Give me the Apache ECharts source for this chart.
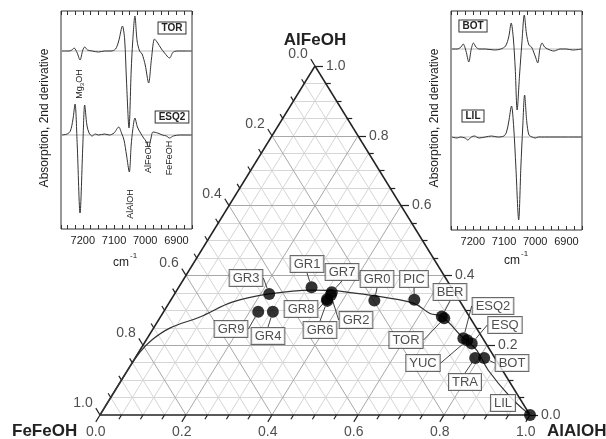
<!DOCTYPE html>
<html><head><meta charset="utf-8">
<script src="https://cdn.jsdelivr.net/npm/echarts@6/dist/echarts.min.js"></script>
<style>html,body{margin:0;padding:0;background:#fff}#c{width:606px;height:439px}</style>
</head><body><div id="c"></div>
<script>
// ---------------- DATA ----------------
// Ternary samples: fractions of AlAlOH and AlFeOH (FeFeOH = 1 - AlAlOH - AlFeOH)
const pointNames = ['GR3','GR1','GR7','GR2','GR8','GR6','GR0','PIC','GR9','GR4','BER','TOR','ESQ2','YUC','ESQ','TRA','BOT','LIL'];
const pointAlAlOH = [0.220,0.309,0.363,0.365,0.362,0.365,0.474,0.566,0.220,0.254,0.654,0.662,0.735,0.747,0.762,0.791,0.812,1.000];
const pointAlFeOH = [0.347,0.366,0.352,0.344,0.332,0.327,0.328,0.330,0.296,0.296,0.282,0.277,0.220,0.214,0.205,0.163,0.163,0.000];

// Model curve
const curveAlAlOH = [0.000,0.000,0.003,0.013,0.038,0.092,0.147,0.220,0.314,0.356,0.413,0.482,0.570,0.622,0.654,0.734,0.783,0.838,0.928,1.000];
const curveAlFeOH = [0.000,0.120,0.180,0.215,0.249,0.281,0.324,0.347,0.358,0.357,0.350,0.339,0.320,0.291,0.282,0.221,0.186,0.129,0.052,0.000];

// Ternary axes
const tickVals = [0,0.05,0.10,0.15,0.20,0.25,0.30,0.35,0.40,0.45,0.50,0.55,0.60,0.65,0.70,0.75,0.80,0.85,0.90,0.95,1.00];
const labelVals = [0,0.2,0.4,0.6,0.8,1.0];
const labelTexts = ['0.0','0.2','0.4','0.6','0.8','1.0'];

// Inset spectra (wavenumber cm-1, 2nd-derivative value in plot units)
const torWn  = [7268,7245,7235,7228,7218,7209,7200,7194,7185,7170,7150,7130,7110,7095,7085,7073,7066,7060,7052,7045,7040,7033,7026,7018,7010,7000,6989,6980,6970,6960,6950,6938,6922,6910,6890,6870,6850];
const torVal = [0,0,1,3,-2,-9,1,4,1,0,-1,0,0,2,10,25,12,-30,-77,-20,10,35,10,0,-3,-14,-32,-8,12,8,3,-2,-7,-1,0,0,0];
const esq2Wn  = [7268,7250,7240,7232,7225,7218,7209,7200,7194,7187,7180,7170,7160,7150,7130,7115,7100,7085,7076,7068,7060,7051,7045,7040,7033,7025,7015,7005,6998,6989,6982,6975,6960,6945,6932,6922,6910,6890,6850];
const esq2Val = [0,1,4,15,31,-10,-78,-10,30,10,2,-1,1,0,1,0,2,8,2,-5,-20,-37,-10,5,17,8,2,-3,-6,-12,-4,3,2,0,-1,-3,-1,0,0];
const botWn  = [7268,7250,7238,7231,7222,7213,7205,7198,7190,7180,7160,7130,7110,7095,7085,7077,7070,7064,7058,7050,7043,7035,7028,7020,7012,7005,6998,6992,6985,6978,6970,6960,6940,6920,6900,6880,6850];
const botVal = [0,0,2,5,-2,-13,0,6,2,0,0,-1,0,3,12,26,10,-20,-61,-25,5,34,15,4,2,-3,-9,-14,0,6,2,0,-2,0,0,-1,0];
const lilWn  = [7268,7250,7240,7225,7216,7205,7195,7180,7160,7140,7120,7100,7092,7085,7076,7069,7062,7053,7046,7040,7034,7027,7020,7010,7000,6990,6970,6940,6900,6850];
const lilVal = [0,-1,0,-1,-3,0,1,-1,0,1,0,1,5,15,31,10,-30,-83,-30,10,42,15,2,0,-1,0,0,0,0,0];

// ---------------- LAYOUT ----------------
const FONT = '"Liberation Sans", Arial, sans-serif';
const SX = 430, SY = 349;            // triangle pixel size
const INK = '#222';
const labelPos = {
  GR3:[246,278], GR1:[307,264], GR7:[342,272], GR2:[356,320], GR8:[301,309], GR6:[320,330],
  GR0:[377,279], PIC:[414,279], GR9:[231,329], GR4:[268,336], BER:[450,292], TOR:[406,340],
  ESQ2:[493,306], YUC:[423,363], ESQ:[505,325], TRA:[465,382], BOT:[512,363], LIL:[503,403]
};
const base = {TOR:178, ESQ2:94, BOT:181, LIL:93};

function tern(a, c) { return [a + c / 2, c]; }
function pxOff(p, dx, dy) { return [p[0] + dx / SX, p[1] - dy / SY]; }
function isMajor(t) { return Math.abs(t * 5 - Math.round(t * 5)) < 1e-9; }

const gridMinor = [], gridMajor = [];
tickVals.forEach(t => {
  if (t <= 0 || t >= 1) return;
  const target = isMajor(t) ? gridMajor : gridMinor;
  target.push({coords:[tern(t,0), tern(t,1-t)]});        // const AlAlOH
  target.push({coords:[tern(0,t), tern(1-t,t)]});        // const AlFeOH
  target.push({coords:[tern(1-t,0), tern(0,1-t)]});      // const FeFeOH
});
const edges = [
  {coords:[tern(0,0), tern(1,0)]},
  {coords:[tern(1,0), tern(0,1)]},
  {coords:[tern(0,1), tern(0,0)]}
];
const ux = 0.5244, uy = 0.8513;
const ticks = [];
tickVals.forEach(t => {
  const L = isMajor(t) ? 8 : 5;
  let p = tern(t, 0); ticks.push({coords:[p, pxOff(p, -ux*L, uy*L)]});
  p = tern(0, 1 - t); ticks.push({coords:[p, pxOff(p, -ux*L, -uy*L)]});
  p = tern(1 - t, t); ticks.push({coords:[p, pxOff(p, L, 0)]});
});
const bottomLab = labelVals.map((t,i) => ({value: pxOff(tern(t,0), -ux*8, uy*8), txt: labelTexts[i]}));
const leftLab = labelVals.map((t,i) => ({value: pxOff(tern(0,1-t), -ux*8, -uy*8), txt: labelTexts[i]}));
const rightLab = labelVals.map((t,i) => ({value: pxOff(tern(1-t,t), 8, 0), txt: labelTexts[i]}));

const points = pointNames.map((n,i) => ({name:n, value: tern(pointAlAlOH[i], pointAlFeOH[i])}));
const curve = curveAlAlOH.map((a,i) => tern(a, curveAlFeOH[i]));

function segSeries(data, color, width) {
  return {type:'lines', coordinateSystem:'cartesian2d', xAxisIndex:0, yAxisIndex:0, silent:true,
    data, lineStyle:{color, width, opacity:1, curveness:0}, effect:{show:false}, clip:false, z:2};
}
function labSeries(data, pos, extra) {
  return {type:'scatter', xAxisIndex:0, yAxisIndex:0, silent:true, symbolSize:0.1,
    itemStyle:{color:'transparent'}, clip:false,
    data: data.map(d => ({value:d.value, txt:d.txt})),
    label: Object.assign({show:true, position:pos, formatter: p => p.data.txt,
      fontFamily:FONT, fontSize:14, color:INK}, extra)};
}
function spec(wn, vals, b, gi) {
  return {type:'line', xAxisIndex:gi, yAxisIndex:gi, showSymbol:false, smooth:0.3, silent:true,
    lineStyle:{color:'#333', width:1}, data: wn.map((w,i) => [w, b + vals[i]]), z:3};
}
function baseLine(b, gi) {
  return {type:'line', xAxisIndex:gi, yAxisIndex:gi, showSymbol:false, silent:true,
    lineStyle:{color:'#bbb', width:1}, data:[[6850,b],[7270,b]], z:2};
}
function insetX(gi, pos, showLab) {
  return {gridIndex:gi, type:'value', min:6850, max:7270, interval:25, inverse:true, position:pos,
    axisLine:{show:false}, splitLine:{show:false},
    axisTick:{show:true, inside:true, length:4, lineStyle:{color:'#333'}},
    axisLabel:{show:showLab, fontFamily:FONT, fontSize:11, color:INK, margin:6,
      formatter: v => (v % 100 === 0 && v >= 6900 && v <= 7200) ? String(v) : ''}};
}
function insetY(gi, max) {
  return {gridIndex:gi, type:'value', min:0, max, show:false};
}
function boxText(x, y, t) {
  return {type:'text', x, y, silent:true, style:{text:t, font:'bold 10px ' + FONT, fill:INK,
    align:'center', verticalAlign:'middle', backgroundColor:'#fff', borderColor:'#333', borderWidth:1, padding:[1,3,0,3]}};
}
function rotText(x, y, t, size) {
  return {type:'text', x, y, rotation:Math.PI/2, silent:true, style:{text:t, font:size + 'px ' + FONT,
    fill:INK, align:'center', verticalAlign:'middle'}};
}
function plainText(x, y, t, font, align) {
  return {type:'text', x, y, silent:true, style:{text:t, font, fill:INK, align:align||'center', verticalAlign:'middle'}};
}

const chart = echarts.init(document.getElementById('c'), null, {renderer:'canvas'});
chart.setOption({
  animation:false,
  backgroundColor:'#fff',
  grid:[
    {left:100 - 0.1*SX, top:66 - 0.1*SY, width:1.2*SX, height:1.2*SY, outerBoundsMode:'none'},
    {left:61, top:11, width:131, height:218, show:true, borderColor:'#333', borderWidth:1, backgroundColor:'transparent', outerBoundsMode:'none'},
    {left:451, top:11, width:131, height:219, show:true, borderColor:'#333', borderWidth:1, backgroundColor:'transparent', outerBoundsMode:'none'}
  ],
  xAxis:[
    {gridIndex:0, type:'value', min:-0.1, max:1.1, show:false},
    insetX(1,'bottom',true), insetX(2,'bottom',true), insetX(1,'top',false), insetX(2,'top',false)
  ],
  yAxis:[
    {gridIndex:0, type:'value', min:-0.1, max:1.1, show:false},
    insetY(1,218), insetY(2,219)
  ],
  series:[
    segSeries(gridMinor, '#d6d6d6', 1),
    segSeries(gridMajor, '#a8a8a8', 1),
    segSeries(edges, INK, 1.5),
    segSeries(ticks, INK, 1.2),
    labSeries(bottomLab, 'bottom', {distance:3}),
    labSeries(leftLab, 'left', {distance:3, offset:[0,-5]}),
    labSeries(rightLab, 'right', {distance:3}),
    {type:'line', xAxisIndex:0, yAxisIndex:0, data:curve, smooth:0.4, showSymbol:false, silent:true,
     lineStyle:{color:'#333', width:1.2}, z:3},
    {type:'scatter', xAxisIndex:0, yAxisIndex:0, data:points, symbolSize:12, silent:true, clip:false,
     itemStyle:{color:'#000'}, z:5,
     label:{show:true, formatter:p => p.name, fontFamily:FONT, fontSize:13, color:INK,
       backgroundColor:'#fff', borderColor:'#444', borderWidth:1, padding:[2,3,1,3]},
     labelLine:{show:true, lineStyle:{color:'#444', width:1}},
     labelLayout: p => { const q = labelPos[pointNames[p.dataIndex]];
       return {x:q[0], y:q[1], align:'center', verticalAlign:'middle'}; }},
    baseLine(base.TOR,1), baseLine(base.ESQ2,1), baseLine(base.BOT,2), baseLine(base.LIL,2),
    spec(torWn, torVal, base.TOR, 1), spec(esq2Wn, esq2Val, base.ESQ2, 1),
    spec(botWn, botVal, base.BOT, 2), spec(lilWn, lilVal, base.LIL, 2)
  ],
  graphic:[
    plainText(315, 40, 'AlFeOH', 'bold 17px ' + FONT),
    plainText(12, 431, 'FeFeOH', 'bold 17px ' + FONT, 'left'),
    plainText(547, 431, 'AlAlOH', 'bold 17px ' + FONT, 'left'),
    rotText(45, 118, 'Absorption, 2nd derivative', 12),
    rotText(435, 118, 'Absorption, 2nd derivative', 12),
    plainText(113, 263, 'cm', '12px ' + FONT, 'left'),
    plainText(130, 256, '-1', '8px ' + FONT, 'left'),
    plainText(504, 261, 'cm', '12px ' + FONT, 'left'),
    plainText(521, 254, '-1', '8px ' + FONT, 'left'),
    boxText(172, 28, 'TOR'), boxText(172, 117, 'ESQ2'),
    boxText(473, 26, 'BOT'), boxText(473, 116, 'LIL'),
    {type:'text', x:80, y:84, rotation:Math.PI/2, silent:true,
     style:{text:'{a|Mg}{b|3}{a|OH}', rich:{a:{fontSize:9, fontFamily:FONT, fill:INK}, b:{fontSize:6, fontFamily:FONT, fill:INK, padding:[4,0,0,0]}},
       align:'center', verticalAlign:'middle'}},
    rotText(131, 204, 'AlAlOH', 9),
    rotText(149, 157, 'AlFeOH', 9),
    rotText(170, 158, 'FeFeOH', 9)
  ]
});
</script></body></html>
